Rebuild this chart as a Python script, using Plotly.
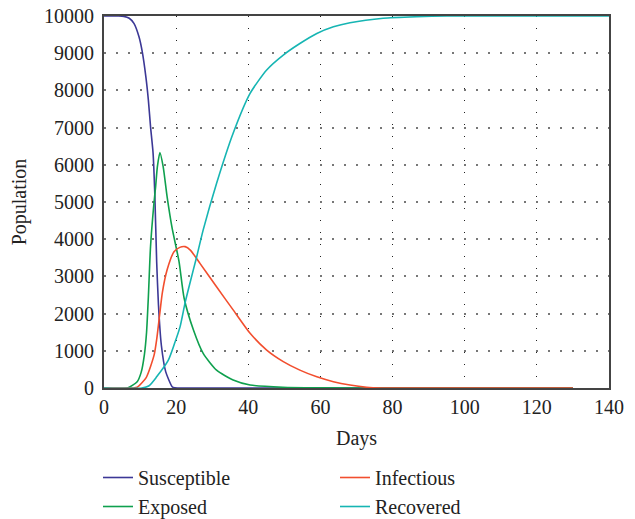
import plotly.graph_objects as go

# ---- data ----
s_days = [0, 4, 5.5, 7, 8.3, 9.7, 10.6, 11.6, 12.3, 12.9, 13.6, 14.1, 14.6, 15.1, 15.9, 17.1, 18.9, 19.6, 25, 40, 60, 80, 100, 130]
s_vals = [10000, 10000, 9990, 9940, 9800, 9440, 9040, 8370, 7740, 7025, 6320, 5170, 3400, 2230, 1150, 440, 35, 5, 0, 0, 0, 0, 0, 0]

e_days = [0, 6.5, 9.2, 10.3, 11.2, 11.8, 12.3, 12.9, 13.8, 14.3, 14.8, 15.5, 16.4, 17.5, 18.9, 20.8, 22.2, 24.8, 27.5, 31.2, 35.8, 40.5, 49.6, 60, 80, 100, 130]
e_vals = [0, 0, 170, 420, 900, 1500, 2450, 3800, 4920, 5400, 5950, 6330, 5950, 5140, 4290, 3400, 2420, 1560, 930, 480, 215, 80, 20, 5, 0, 0, 0]

i_days = [0, 8, 9.2, 11.7, 13.9, 14.6, 15.4, 16.2, 17.5, 19.4, 21, 22.5, 24, 26.6, 31.2, 35.8, 40.5, 45.1, 49.7, 54.3, 59, 63.6, 68.2, 72.8, 77, 85, 100, 130]
i_vals = [0, 0, 20, 280, 890, 1300, 1950, 2580, 3180, 3660, 3780, 3800, 3700, 3350, 2720, 2100, 1470, 1020, 710, 480, 300, 170, 80, 20, 0, 0, 0, 0]

r_days = [0, 10.5, 12.5, 14.6, 17.8, 19.5, 21.1, 22.5, 23.8, 25.7, 27.5, 31.2, 35.8, 40.5, 45.1, 49.7, 54.3, 59, 63.6, 68.2, 77.4, 86.6, 95, 110, 140]
r_vals = [0, 0, 60, 300, 740, 1180, 1650, 2300, 2810, 3530, 4250, 5500, 6850, 7920, 8550, 8950, 9260, 9530, 9710, 9820, 9940, 9980, 10000, 10000, 10000]

x_ticks = [0, 20, 40, 60, 80, 100, 120, 140]
y_ticks = [0, 1000, 2000, 3000, 4000, 5000, 6000, 7000, 8000, 9000, 10000]

FONT = "Liberation Serif"
FS = 20

series = [
    ("Susceptible", s_days, s_vals, "#3c3896", 1),
    ("Exposed", e_days, e_vals, "#0fa04e", 3),
    ("Infectious", i_days, i_vals, "#f24e2e", 2),
    ("Recovered", r_days, r_vals, "#16b5b3", 4),
]

fig = go.Figure()
for name, xs, ys, col, rank in series:
    fig.add_trace(go.Scatter(
        x=xs, y=ys, name=name, mode="lines",
        line=dict(color=col, width=1.6, shape="spline", smoothing=0.6),
        legendrank=rank,
    ))

fig.update_layout(
    width=635, height=519,
    margin=dict(l=104, r=26, t=16, b=131, autoexpand=False),
    paper_bgcolor="white", plot_bgcolor="white",
    font=dict(family=FONT, size=FS, color="#222"),
    showlegend=True,
    legend=dict(
        orientation="h",
        xref="container", x=98 / 635, xanchor="left",
        yref="container", y=1 - 458 / 519, yanchor="top",
        entrywidth=192, entrywidthmode="pixels",
        font=dict(family=FONT, size=FS, color="#222"),
        tracegroupgap=0, itemwidth=30, bgcolor="rgba(0,0,0,0)",
    ),
)
fig.update_xaxes(
    range=[0, 140], tickvals=x_ticks, ticktext=[str(v) for v in x_ticks],
    showline=True, linecolor="#444", linewidth=2, mirror=True,
    showgrid=True, gridcolor="#222", gridwidth=1, griddash="1px,11px",
    zeroline=False, ticks="", automargin=False,
    title=dict(text="Days", font=dict(family=FONT, size=FS), standoff=14),
)
fig.update_yaxes(
    range=[0, 10000], tickvals=y_ticks, ticktext=[str(v) for v in y_ticks],
    showline=True, linecolor="#444", linewidth=2, mirror=True,
    showgrid=True, gridcolor="#777", gridwidth=1.5, griddash="1.5px,10.5px",
    zeroline=False, ticks="", automargin=False, ticklabelstandoff=4,
    title=dict(text="Population", font=dict(family=FONT, size=FS), standoff=12),
)

fig.write_html("out.html")
